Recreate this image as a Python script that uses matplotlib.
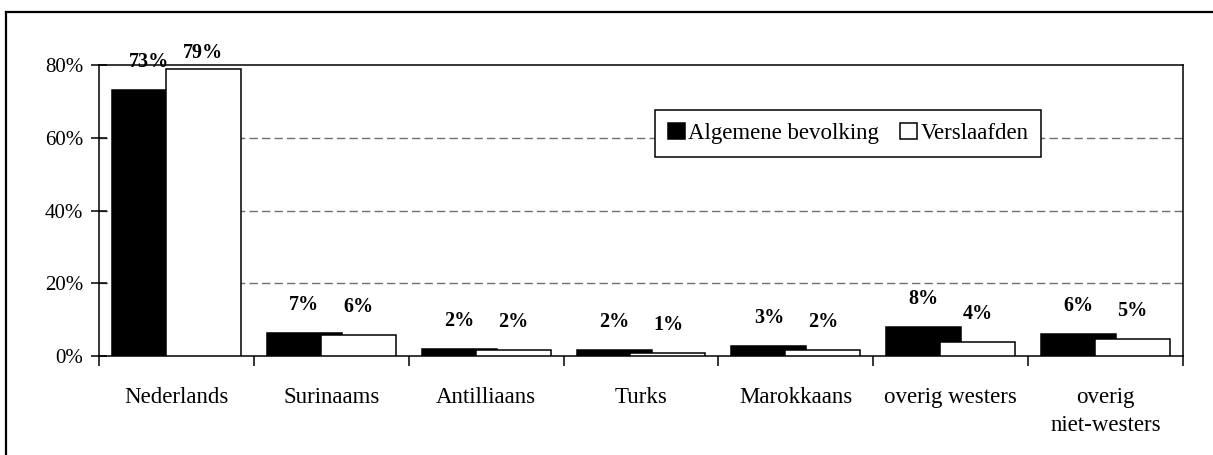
import matplotlib

matplotlib.use("Agg")
import matplotlib.pyplot as plt
from matplotlib.lines import Line2D
import numpy as np

plt.rcParams["font.family"] = ["Liberation Serif", "DejaVu Serif"]

categories = ["Nederlands", "Surinaams", "Antilliaans", "Turks", "Marokkaans",
              "overig westers", "overig\nniet-westers"]
series_names = ["Algemene bevolking", "Verslaafden"]
# bar heights (percent)
algemeen = [73.0, 6.4, 1.8, 1.7, 2.8, 8.0, 6.0]
verslaafd = [79.0, 5.7, 1.6, 0.8, 1.7, 3.8, 4.8]
# printed data labels
algemeen_labels = ["73%", "7%", "2%", "2%", "3%", "8%", "6%"]
verslaafd_labels = ["79%", "6%", "2%", "1%", "2%", "4%", "5%"]
yticks = [0, 20, 40, 60, 80]

W, H = 1213, 455
fig = plt.figure(figsize=(W / 100, H / 100), dpi=100)
ax = fig.add_axes([99 / W, 1 - 356 / H, (1183 - 99) / W, (356 - 65) / H])

x = np.arange(len(categories))
width = 0.484
off = 0.174
lw = 1.1
b1 = ax.bar(x - off, algemeen, width, color="black", edgecolor="black", linewidth=lw, zorder=2,
            label=series_names[0])
b2 = ax.bar(x + off, verslaafd, width, color="white", edgecolor="black", linewidth=lw, zorder=3,
            label=series_names[1])

# data labels, kept inside the chart frame at the top
for xs, vals, labs in ((x - off, algemeen, algemeen_labels), (x + off, verslaafd, verslaafd_labels)):
    for xi, v, t in zip(xs, vals, labs):
        ax.text(xi, min(v + 7.7, 83.4), t, ha="center", va="center", fontsize=14.5,
                fontweight="bold", clip_on=False, zorder=5)

ax.set_xlim(-0.5, len(categories) - 0.5)
ax.set_ylim(0, 80)
ax.set_yticks(yticks)
ax.set_yticklabels([f"{v}%" for v in yticks], fontsize=15)
ax.tick_params(axis="y", direction="inout", length=11, width=1.1, pad=6)

ax.set_xticks(np.arange(len(categories) + 1) - 0.5)
ax.set_xticklabels([])
ax.tick_params(axis="x", which="major", direction="out", length=7.5, width=1.1)
ax.set_xticks(x, minor=True)
ax.set_xticklabels(categories, minor=True, fontsize=16.5, linespacing=1.45)
ax.tick_params(axis="x", which="minor", length=0, pad=22)

for v in yticks[1:-1]:
    ax.axhline(v, color="#707070", linestyle=(0, (6, 3)), linewidth=1.0, zorder=1)

for s in ax.spines.values():
    s.set_linewidth(1.1)
    s.set_color("black")

leg = ax.legend(handles=[b1, b2], loc="upper left", bbox_to_anchor=(0.513, 0.845), ncol=2,
                fontsize=16.5, frameon=True, fancybox=False, framealpha=1, borderaxespad=0,
                handlelength=0.75, handleheight=0.75, handletextpad=0.15, columnspacing=0.9,
                borderpad=0.55)
leg.get_frame().set_edgecolor("black")
leg.get_frame().set_linewidth(1.1)
leg.set_zorder(6)

# outer chart frame, cut off at the right and bottom
fig.add_artist(Line2D([6 / W, 6 / W], [0, 1 - 12 / H], color="black", linewidth=1.6,
                      transform=fig.transFigure))
fig.add_artist(Line2D([6 / W, 1], [1 - 12 / H, 1 - 12 / H], color="black", linewidth=1.6,
                      transform=fig.transFigure))

fig.savefig("out.png", dpi=100)
